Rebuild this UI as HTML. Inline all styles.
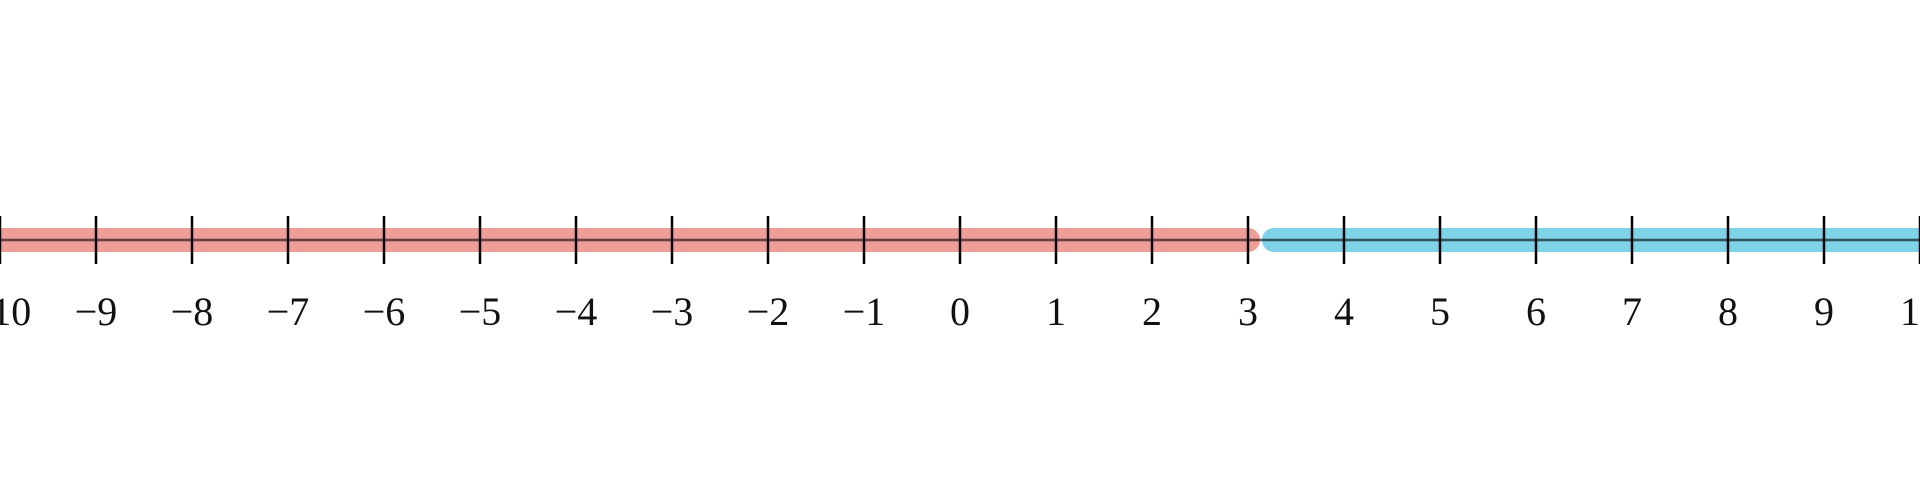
<!DOCTYPE html>
<html><head><meta charset="utf-8"><style>
html,body{margin:0;padding:0;background:#fff;width:1920px;height:480px;overflow:hidden}
</style></head><body>
<svg id="chart" width="1920" height="480" viewBox="0 0 1920 480"></svg>
<script>
const ticks=[-10,-9,-8,-7,-6,-5,-4,-3,-2,-1,0,1,2,3,4,5,6,7,8,9,10];
const tickLabels=["−10","−9","−8","−7","−6","−5","−4","−3","−2","−1","0","1","2","3","4","5","6","7","8","9","10"];
const redRange=[-11,3];
const blueRange=[3.27,11];
const NS="http://www.w3.org/2000/svg";
const svg=document.getElementById('chart');
function x(v){return 960+v*96;}
const Y=240;
function mk(t,a){const e=document.createElementNS(NS,t);for(const k in a)e.setAttribute(k,a[k]);svg.appendChild(e);return e;}
let r=mk('line',{x1:x(redRange[0]),x2:x(redRange[1]),y1:Y,y2:Y,stroke:'#ef9d97','stroke-width':24,'stroke-linecap':'round'});


let b=mk('line',{x1:x(blueRange[0]),x2:x(blueRange[1]),y1:Y,y2:Y,stroke:'#7fd3e9','stroke-width':24,'stroke-linecap':'round'});


let ax=mk('line',{x1:0,x2:1920,y1:Y,y2:Y,stroke:'#000','stroke-width':2.5,'stroke-opacity':0.6});


ticks.forEach((v,i)=>{
  let t=mk('line',{x1:x(v),x2:x(v),y1:216,y2:264,stroke:'#000','stroke-width':2.5});
  
  
  let l=mk('text',{x:x(v),y:325,'text-anchor':'middle',fill:'#111',style:'font-size:40px;font-family:"Liberation Serif",serif'});
  l.textContent=tickLabels[i];
  
  
});
</script>
</body></html>
